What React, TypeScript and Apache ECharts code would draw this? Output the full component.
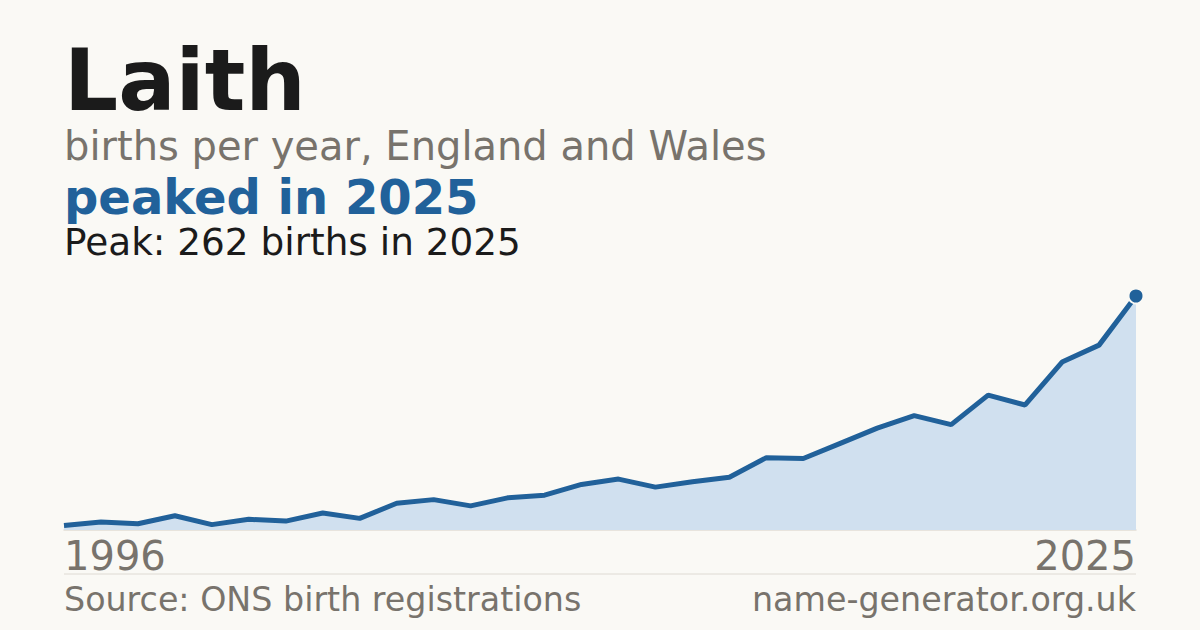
import { useEffect, useRef } from 'react';
import * as echarts from 'echarts';

// years on the x axis
const years = [
    '1996', '1997', '1998', '1999', '2000', '2001', '2002', '2003', '2004', '2005',
    '2006', '2007', '2008', '2009', '2010', '2011', '2012', '2013', '2014', '2015',
    '2016', '2017', '2018', '2019', '2020', '2021', '2022', '2023', '2024', '2025',
];

// births per year
const births = [
    5, 9, 7, 16, 6, 12, 10, 19, 13, 30,
    34, 27, 36, 39, 51, 57, 48, 54, 59, 81,
    80, 97, 114, 128, 118, 151, 140, 188, 207, 262,
];

const FONT = '"DejaVu Sans", sans-serif';
const BG = '#faf9f5';
const BLUE = '#21619a';
const GREY = '#78736c';

export default function App() {
    const chartRef = useRef<HTMLDivElement>(null);

    useEffect(() => {
        if (!chartRef.current) return;
        const chart = echarts.init(chartRef.current, undefined, { renderer: 'svg' });

        const last = births.length - 1;
        const peak = Math.max(...births);

        const text = (t: string, x: number, y: number, size: number, color: string, weight = 'normal', align = 'left') => ({
            type: 'text',
            x,
            y,
            style: {
                text: t,
                fill: color,
                font: `${weight} ${size}px ${FONT}`,
                align,
                verticalAlign: 'middle',
            },
        });

        const option = {
            animation: false,
            backgroundColor: BG,
            grid: { left: 64, right: 64, top: 296, bottom: 100 },
            xAxis: {
                type: 'category',
                data: years,
                boundaryGap: false,
                axisLine: { show: true, lineStyle: { color: '#e2ddd4', width: 1.5 } },
                axisTick: { show: false },
                splitLine: { show: false },
                axisLabel: {
                    interval: (i: number) => i === 0 || i === last,
                    alignMinLabel: 'left',
                    alignMaxLabel: 'right',
                    color: GREY,
                    fontFamily: FONT,
                    fontSize: 40,
                    margin: 6,
                },
            },
            yAxis: {
                type: 'value',
                min: 0,
                max: peak,
                show: false,
                splitLine: { show: false },
            },
            series: [
                {
                    type: 'line',
                    data: births,
                    showSymbol: false,
                    lineStyle: { color: BLUE, width: 5 },
                    itemStyle: { color: BLUE },
                    areaStyle: { color: '#d0e0ef', opacity: 1 },
                    z: 2,
                },
                {
                    type: 'scatter',
                    data: [[years[last], births[last]]],
                    symbol: 'circle',
                    symbolSize: 15,
                    itemStyle: { color: BLUE, opacity: 1, borderColor: BG, borderWidth: 2 },
                    z: 3,
                },
            ],
            graphic: [
                text('Laith', 64, 80, 85, '#1b1b1b', 'bold'),
                text('births per year, England and Wales', 64, 146, 40, GREY),
                text(`peaked in ${years[last]}`, 64, 197, 48, BLUE, 'bold'),
                text(`Peak: ${peak} births in ${years[last]}`, 64, 242, 37.4, '#1b1b1b'),
                {
                    type: 'line',
                    shape: { x1: 64, y1: 574, x2: 1136, y2: 574 },
                    style: { stroke: '#dedad3', lineWidth: 1 },
                },
                text('Source: ONS birth registrations', 64, 599, 33.3, GREY),
                text('name-generator.org.uk', 1136, 599, 33.3, GREY, 'normal', 'right'),
            ],
        };

        chart.setOption(option as any);

        return () => {
            chart.dispose();
        };
    }, []);

    return (
        <div
            ref={chartRef}
            style={{ position: 'fixed', left: 0, top: 0, width: '1200px', height: '630px' }}
        />
    );
}
